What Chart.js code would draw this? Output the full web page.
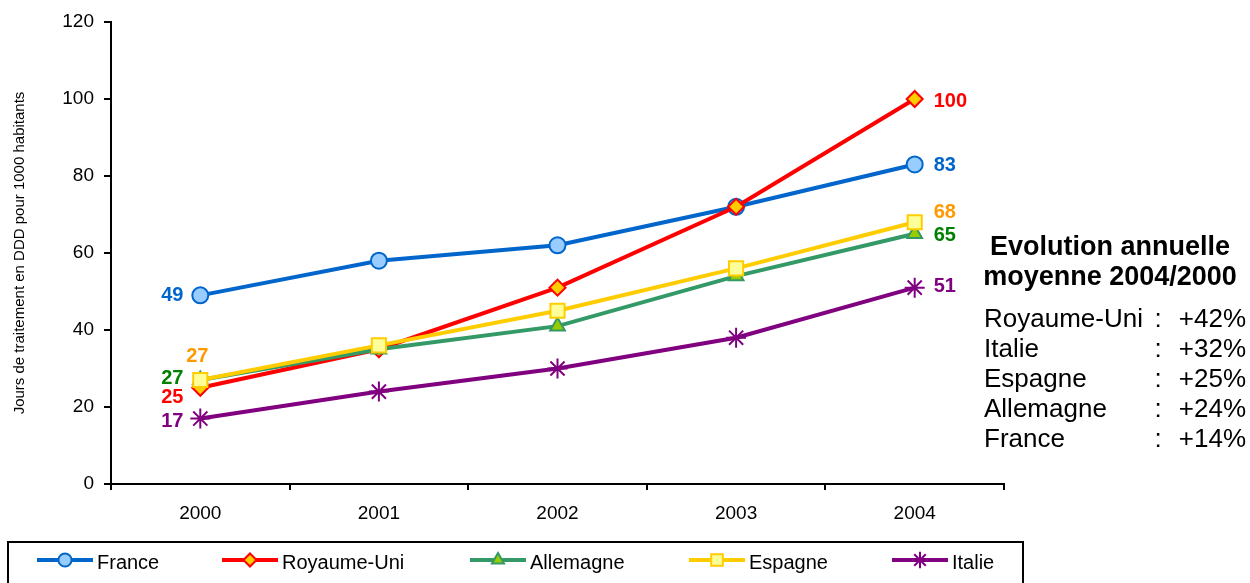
<!DOCTYPE html>
<html>
<head>
<meta charset="utf-8">
<script src="https://cdn.jsdelivr.net/npm/chart.js"></script>
<style>
  body { margin: 0; background: #fff; }
  canvas { display: block; }
</style>
</head>
<body>
<canvas id="conso" width="1250" height="583"></canvas>
<script>
// data
const years = ['2000', '2001', '2002', '2003', '2004'];
const france = [49, 58, 62, 72, 83];
const royaumeUni = [25, 35, 51, 72, 100];
const allemagne = [27, 35, 41, 54, 65];
const espagne = [27, 36, 45, 56, 68];
const italie = [17, 24, 30, 38, 51];
const yTicks = [0, 20, 40, 60, 80, 100, 120];
const yTitle = 'Jours de traitement en DDD pour 1000 habitants';
const evoTitle = ['Evolution annuelle', 'moyenne 2004/2000'];
const evoNames = ['Royaume-Uni', 'Italie', 'Espagne', 'Allemagne', 'France'];
const evoValues = ['+42%', '+32%', '+25%', '+24%', '+14%'];

const FONT = "'Liberation Sans', Arial, sans-serif";

// label colours and offsets of the value labels at first / last point
const labelStyle = [
    { color: '#0066CC', first: [-28, 0], last: [19, 1] },
    { color: '#FF0000', first: [-28, 10], last: [19, 2] },
    { color: '#008000', first: [-28, -2], last: [19, 2] },
    { color: '#FF9900', first: [-3, -24], last: [19, -10] },
    { color: '#800080', first: [-28, 3], last: [19, -1] }
];

const valueLabels = {
    id: 'valueLabels',
    afterDatasetsDraw(chart) {
        const ctx = chart.ctx;
        ctx.save();
        ctx.font = 'bold 20px ' + FONT;
        ctx.textBaseline = 'middle';
        chart.data.datasets.forEach((ds, i) => {
            const pts = chart.getDatasetMeta(i).data;
            const st = labelStyle[i];
            ctx.fillStyle = st.color;
            const p0 = pts[0], pN = pts[pts.length - 1];
            ctx.textAlign = 'center';
            ctx.fillText(String(ds.data[0]), p0.x + st.first[0], p0.y + st.first[1]);
            ctx.textAlign = 'left';
            ctx.fillText(String(ds.data[ds.data.length - 1]), pN.x + st.last[0], pN.y + st.last[1]);
        });
        ctx.restore();
    }
};

const boxLegend = {
    id: 'boxLegend',
    afterDraw(chart) {
        const ctx = chart.ctx;
        const starts = [37, 222, 470, 689, 892];
        const y = 560;
        ctx.save();
        ctx.strokeStyle = '#000';
        ctx.lineWidth = 2;
        ctx.strokeRect(8, 542, 1015, 60);
        chart.data.datasets.forEach((ds, i) => {
            const x0 = starts[i];
            ctx.strokeStyle = ds.borderColor;
            ctx.lineWidth = 4;
            ctx.beginPath();
            ctx.moveTo(x0, y);
            ctx.lineTo(x0 + 56, y);
            ctx.stroke();
            ctx.fillStyle = ds.pointBackgroundColor || '#fff';
            ctx.strokeStyle = ds.pointBorderColor;
            ctx.lineWidth = 2;
            Chart.helpers.drawPoint(ctx, {
                pointStyle: ds.pointStyle,
                radius: ds.pointRadius * 0.82,
                rotation: 0,
                borderWidth: 2
            }, x0 + 28, y);
            ctx.fillStyle = '#000';
            ctx.font = '20px ' + FONT;
            ctx.textAlign = 'left';
            ctx.textBaseline = 'middle';
            ctx.fillText(ds.label, x0 + 60, y + 3);
        });

        // side panel
        ctx.textBaseline = 'middle';
        ctx.font = 'bold 27px ' + FONT;
        ctx.textAlign = 'center';
        ctx.fillText(evoTitle[0], 1110, 248);
        ctx.fillText(evoTitle[1], 1110, 278);
        ctx.font = '26px ' + FONT;
        evoNames.forEach((n, i) => {
            const ry = 320 + i * 30;
            ctx.textAlign = 'left';
            ctx.fillText(n, 984, ry);
            ctx.textAlign = 'center';
            ctx.fillText(':', 1158, ry);
            ctx.textAlign = 'right';
            ctx.fillText(evoValues[i], 1246, ry);
        });
        ctx.restore();
    }
};

function line(label, data, color, bg, style, radius, order) {
    return {
        label: label,
        data: data,
        borderColor: color,
        borderWidth: 4,
        pointStyle: style,
        pointRadius: radius,
        pointHoverRadius: radius,
        pointBackgroundColor: bg,
        pointBorderColor: color,
        pointBorderWidth: 2,
        tension: 0,
        fill: false,
        order: order
    };
}

const ctx = document.getElementById('conso');
const chart = new Chart(ctx, {
    type: 'line',
    data: {
        labels: years,
        datasets: [
            line('France', france, '#0066CC', '#99CCFF', 'circle', 8, 5),
            line('Royaume-Uni', royaumeUni, '#FF0000', '#FFCC00', 'rectRot', 8, 4),
            line('Allemagne', allemagne, '#339966', '#99CC00', 'triangle', 8.5, 3),
            line('Espagne', espagne, '#FFCC00', '#FFFF99', 'rect', 10, 2),
            line('Italie', italie, '#800080', '#800080', 'star', 10, 1)
        ]
    },
    options: {
        responsive: false,
        animation: false,
        layout: { padding: { left: 0, top: 22, right: 246, bottom: 59 } },
        plugins: {
            legend: { display: false },
            tooltip: { enabled: false }
        },
        scales: {
            x: {
                offset: true,
                border: { color: '#000', width: 2 },
                grid: { drawOnChartArea: false, drawTicks: true, tickLength: 6, color: '#000', lineWidth: 2, offset: true },
                ticks: { color: '#000', font: { family: FONT, size: 19 }, padding: 12 },
                afterFit: s => { s.height = 40; }
            },
            y: {
                min: 0,
                max: 120,
                afterBuildTicks: s => { s.ticks = yTicks.map(v => ({ value: v })); },
                border: { color: '#000', width: 2 },
                grid: { drawOnChartArea: false, drawTicks: true, tickLength: 7, color: '#000', lineWidth: 2 },
                ticks: { color: '#000', font: { family: FONT, size: 19 }, padding: 10 },
                title: { display: true, text: yTitle, color: '#000', font: { family: FONT, size: 15 }, padding: { top: 11, bottom: 0 } },
                afterFit: s => { s.width = 111; }
            }
        }
    },
    plugins: [valueLabels, boxLegend]
});
</script>
</body>
</html>
